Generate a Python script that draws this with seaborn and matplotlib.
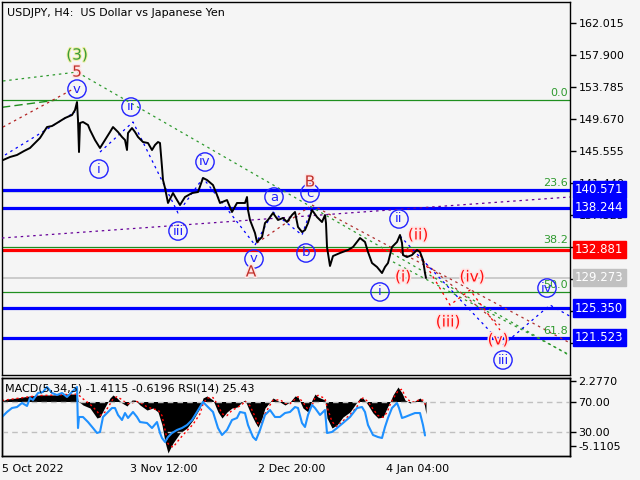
import numpy as np
import pandas as pd
import matplotlib
matplotlib.use("Agg")
import matplotlib.pyplot as plt
import matplotlib.patheffects as pe
import matplotlib.transforms as mtransforms
import seaborn as sns

# ---- price (H4 bars, bar index from the left edge of the chart)
price_bar = [1, 8, 15, 22, 28, 31, 38, 45, 50, 55, 63, 70, 73, 75, 76, 77, 78, 81, 86, 88,
             93, 98, 103, 108, 111, 116, 120, 123, 125, 126, 130, 133, 136, 141, 146, 150,
             153, 156, 158, 160, 161, 163, 166, 171, 175, 178, 183, 190, 196, 201, 205, 211,
             215, 218, 225, 230, 235, 243, 245, 246, 248, 253, 255, 260, 263, 266, 271, 276,
             281, 285, 290, 293, 296, 300, 303, 306, 310, 315, 320, 323, 324, 325, 328, 331,
             338, 346, 351, 358, 363, 366, 370, 375, 380, 383, 386, 390, 395, 398, 400, 401,
             405, 410, 415, 418, 421, 423, 424]
price = [144.41, 144.80, 145.06, 145.57, 145.96, 146.35, 147.25, 148.66, 148.79, 149.18,
         149.82, 150.21, 150.85, 151.88, 149.56, 145.44, 149.18, 149.31, 148.92, 148.28,
         146.99, 145.96, 146.99, 148.02, 148.66, 148.02, 147.38, 146.99, 145.70, 147.89,
         148.53, 148.02, 147.38, 146.73, 146.60, 145.70, 146.35, 146.73, 146.60, 143.51,
         141.84, 140.81, 138.88, 140.16, 139.26, 138.62, 139.65, 140.16, 140.29, 142.10,
         141.84, 141.19, 139.91, 138.88, 139.26, 137.72, 138.88, 138.88, 139.65, 137.98,
         136.69, 135.01, 133.86, 134.50, 136.30, 136.69, 137.59, 136.69, 136.95, 136.43,
         137.33, 137.72, 135.79, 135.14, 135.40, 136.30, 137.98, 137.07, 136.43, 137.33,
         136.30, 133.21, 130.77, 132.05, 132.44, 132.83, 133.21, 134.37, 133.86, 132.57,
         131.15, 130.64, 129.86, 130.64, 131.15, 133.21, 133.86, 134.76, 133.73, 132.18,
         131.92, 132.18, 132.83, 132.57, 131.54, 129.86, 129.22]

# ---- MACD(5,34,5) histogram + signal, RSI(14)
macd_bar = [0, 5, 15, 28, 38, 51, 65, 75, 76, 81, 88, 95, 98, 103, 108, 111, 115, 120, 125,
            130, 133, 138, 145, 151, 156, 160, 163, 166, 171, 178, 185, 191, 198, 201, 205,
            211, 216, 220, 225, 230, 235, 240, 243, 248, 253, 256, 260, 263, 268, 271, 278,
            283, 288, 293, 296, 301, 306, 310, 313, 316, 323, 325, 330, 335, 341, 348, 355,
            358, 361, 366, 371, 376, 381, 385, 388, 391, 396, 400, 403, 408, 413, 418, 422, 424]
macd = [0.06, 0.28, 0.40, 0.63, 0.74, 0.74, 0.85, 0.85, 0.06, -0.40, -0.74, -1.88, -1.76,
        -0.63, 0.40, 0.74, 0.40, -0.17, -0.51, 0.17, 0.17, -0.40, -0.97, -0.74, -1.19, -2.67,
        -4.60, -5.85, -4.72, -3.58, -3.01, -2.10, -0.74, 0.40, 0.63, 0.17, -1.19, -1.88, -1.19,
        -0.74, -0.63, -0.06, 0.17, -1.19, -2.33, -2.90, -1.88, -0.74, -0.06, 0.40, -0.06, -0.40,
        -0.06, 0.63, 0.51, -0.74, -1.19, 0.17, 0.85, 0.51, 0.17, -1.88, -3.01, -2.67, -1.76,
        -1.19, -0.06, 0.40, 0.40, -0.40, -1.31, -1.88, -1.76, -0.74, -0.06, 0.74, 1.65, 0.97,
        0.17, -0.17, 0.06, 0.40, -0.17, -1.41]
signal = [0.10, 0.20, 0.35, 0.55, 0.68, 0.72, 0.80, 0.84, 0.80, 0.30, -0.30, -1.10, -1.60,
          -1.20, -0.30, 0.30, 0.55, 0.20, -0.25, -0.20, 0.05, -0.10, -0.60, -0.85, -0.95, -1.60,
          -3.20, -4.80, -5.20, -4.20, -3.30, -2.60, -1.40, -0.30, 0.40, 0.45, -0.40, -1.40, -1.60,
          -1.00, -0.70, -0.35, 0.05, -0.50, -1.70, -2.50, -2.40, -1.40, -0.40, 0.15, 0.20, -0.20,
          -0.25, 0.25, 0.55, -0.10, -0.90, -0.50, 0.45, 0.70, 0.35, -0.60, -2.30, -2.85, -2.20,
          -1.50, -0.60, 0.15, 0.40, 0.00, -0.85, -1.60, -1.80, -1.25, -0.40, 0.30, 1.20, 1.40,
          0.60, 0.00, -0.05, 0.25, 0.10, -0.62]
rsi_bar = [0, 5, 10, 15, 20, 25, 28, 31, 36, 41, 45, 50, 55, 60, 65, 70, 75, 76, 77, 81, 86,
           91, 95, 98, 101, 105, 110, 113, 116, 120, 123, 126, 131, 135, 138, 145, 150, 155, 158,
           160, 163, 166, 170, 175, 180, 185, 190, 195, 198, 201, 206, 211, 216, 220, 225, 230,
           235, 238, 243, 246, 251, 254, 258, 263, 268, 273, 278, 283, 288, 293, 296, 300, 303,
           306, 310, 313, 318, 323, 325, 330, 335, 341, 348, 355, 360, 363, 366, 371, 376, 380,
           383, 386, 390, 395, 397, 400, 403, 408, 413, 418, 421, 423]
rsi = [50, 56.7, 62, 63.3, 68.7, 64.7, 75.3, 72.7, 82, 83.3, 90, 82, 79.3, 82, 76.7, 83.3, 90,
       35.3, 50, 50, 43.3, 35.3, 28.7, 30, 50, 55.3, 62, 62, 52.7, 46, 55.3, 48.7, 56.7, 50,
       43.3, 42, 35.3, 43.3, 28.7, 22, 16.7, 23.3, 28.7, 32.7, 35.3, 39.3, 46, 56.7, 63.3, 70,
       63.3, 56.7, 35.3, 26, 32.7, 46, 48.7, 56.7, 55.3, 39.3, 23.3, 19.3, 32.7, 52.7, 59.3,
       50, 50, 55.3, 56.7, 63.3, 62, 42, 36.7, 52.7, 66, 62, 52.7, 59.3, 28.7, 30, 35.3, 42, 50,
       62, 63.3, 56.7, 39.3, 26, 23.3, 22, 36.7, 48.7, 62, 68.7, 62, 48.7, 50, 52.7, 55.3, 55.3,
       39.3, 25.4]

# ---- horizontal levels
levels = [140.571, 138.244, 132.881, 129.273, 125.350, 121.523]
level_colors = ['#0000ff', '#0000ff', '#ff0000', '#c0c0c0', '#0000ff', '#0000ff']
fib_names = ['0.0', '23.6', '38.2', '50.0', '61.8']
fib_values = [152.14, 140.45, 133.23, 127.38, 121.45]
price_ticks = [162.015, 157.900, 153.785, 149.670, 145.555, 141.440, 137.325, 133.210,
               129.095, 124.980, 120.865]
date_ticks = [0, 128, 256, 384]
date_labels = ['5 Oct 2022', '3 Nov 12:00', '2 Dec 20:00', '4 Jan 04:00']

# ---- wave marks: (text, bar, price)
circle_marks = [('v', 75, 153.55), ('i', 97, 143.25), ('ii', 129, 151.24), ('iii', 176, 135.27),
                ('iv', 203, 144.16), ('v', 252, 131.67), ('a', 272, 139.65), ('b', 304, 132.44),
                ('c', 308, 140.16), ('i', 378, 127.42), ('ii', 397, 136.82),
                ('iii', 501, 118.66), ('iv', 545, 127.93)]
red_marks = [('5', 75, 155.74), ('A', 249, 130.0), ('B', 308, 141.58), ('(i)', 401, 129.35),
             ('(ii)', 416, 134.76), ('(iii)', 446, 123.55), ('(iv)', 470, 129.35),
             ('(v)', 496, 121.24)]

# ---- drawn wave/trend lines: (bars, prices, colour)
trend_lines = [
    ([1, 75, 568], [154.59, 155.74, 119.2], '#2e9a2e'),
    ([391, 568], [131.3, 119.3], '#2e9a2e'),
    ([1, 73], [148.66, 153.68], '#b22222'),
    ([3, 73], [145.06, 150.59], '#0000ff'),
    ([98, 131, 176, 201, 253], [145.44, 149.31, 137.59, 142.10, 133.47], '#0000ff'),
    ([253, 271, 300, 310], [133.47, 137.72, 134.76, 138.36], '#0000ff'),
    ([255, 307], [133.73, 138.36], '#b22222'),
    ([0, 568], [134.37, 139.65], '#660099'),
    ([310, 568], [138.62, 120.85], '#b03030'),
    ([405, 498], [133.06, 123.17], '#b03030'),
    ([418, 448, 468, 498], [132.18, 125.74, 127.67, 122.52], '#ff0000'),
    ([398, 501, 548, 568], [134.63, 120.59, 125.74, 124.3], '#0000ff'),
]

bg = '#f5f5f5'
sns.set_theme(style='white')
plt.rcParams['font.family'] = ['DejaVu Sans']
plt.rcParams['axes.facecolor'] = bg
plt.rcParams['figure.facecolor'] = bg

fig = plt.figure(figsize=(6.4, 4.8), dpi=100)
ax = fig.add_axes([2 / 640, 1 - 375 / 480, 568 / 640, 373 / 480])
axi = fig.add_axes([2 / 640, 1 - 456 / 480, 568 / 640, 78 / 480])
axm = axi.twinx()

for a in (ax, axi, axm):
    for s in a.spines.values():
        s.set_color('black')
        s.set_linewidth(1)

# levels
ax.plot([0, 568], [fib_values[0]] * 2, color='#1f8f1f', lw=0.9)
ax.plot([0, 55], [151.2, 152.14], color='#1f8f1f', lw=1, ls=(0, (6, 3)))
for v in fib_values[1:]:
    ax.axhline(v, color='#1f8f1f', lw=0.9, zorder=2)
for v, c in zip(levels, level_colors):
    ax.axhline(v, color=c, lw=2.3 if c != '#c0c0c0' else 1.1, zorder=2)

for xs, ys, c in trend_lines:
    ax.plot(xs, ys, color=c, lw=0.9, ls=(0, (2, 3)), zorder=3)

sns.lineplot(x=price_bar, y=price, ax=ax, color='black', lw=1.4, sort=False,
             estimator=None, zorder=4)

for name, v in zip(fib_names, fib_values):
    ax.text(0.996, v + 0.3, name, transform=mtransforms.blended_transform_factory(ax.transAxes, ax.transData),
            ha='right', va='bottom', color='#2e9a2e', fontsize=8, zorder=5)

halo = [pe.withStroke(linewidth=2.2, foreground='#ffe4e4')]
for t, x, y in circle_marks:
    ax.text(x, y, t, ha='center', va='center', color='#2222ff', fontsize=9.5, zorder=6,
            bbox=dict(boxstyle='circle,pad=0.2', fc='none', ec='#2222ff', lw=1))
for t, x, y in red_marks:
    ax.text(x, y, t, ha='center', va='center', color='#ff1010' if t.startswith('(') else '#c0302a',
            fontsize=11, zorder=6, path_effects=halo)
ax.text(75, 157.93, '(3)', ha='center', va='center', color='#3a9a3a', fontsize=11, zorder=6,
        path_effects=[pe.withStroke(linewidth=1.5, foreground='#f0f0a0')])

ax.set_xlim(0, 568)
ax.set_ylim(116.73, 164.76)
ax.set_xticks([])
ax.yaxis.tick_right()
ax.set_yticks(price_ticks)
ax.set_yticklabels([f'{v:.3f}' for v in price_ticks])
ax.tick_params(axis='y', direction='out', length=4, width=1, labelsize=8, pad=2, colors='black')

tr = mtransforms.blended_transform_factory(ax.transAxes, ax.transData)
for v, c in zip(levels, level_colors):
    ax.text(1.009, v, f'{v:.3f}', transform=tr, ha='left', va='center', color='white',
            fontsize=8.5, zorder=10, clip_on=False,
            bbox=dict(boxstyle='square,pad=0.18', fc=c, ec=c))

ax.text(0.009, 0.985, 'USDJPY, H4:  US Dollar vs Japanese Yen', transform=ax.transAxes,
        ha='left', va='top', fontsize=8, color='black')

# indicator window
axm.fill_between(macd_bar, 0, macd, color='black', lw=0, zorder=2)
axm.plot(macd_bar, signal, color='red', lw=1, ls=(0, (1.5, 2)), zorder=3)
axi.axhline(70, color='#c0c0c0', lw=1, ls=(0, (4, 3)))
axi.axhline(30, color='#c0c0c0', lw=1, ls=(0, (4, 3)))
sns.lineplot(x=rsi_bar, y=rsi, ax=axi, color='#1e90ff', lw=1.5, sort=False, estimator=None)
axi.set_zorder(axm.get_zorder() + 1)
axi.patch.set_visible(False)

axi.set_xlim(0, 568)
axi.set_ylim(-2, 102)
axm.set_ylim(-6.194, 2.671)
axi.yaxis.tick_right()
axi.set_yticks([70, 30])
axi.set_yticklabels(['70.00', '30.00'])
axm.set_yticks([2.277, -5.1105])
axm.set_yticklabels(['2.2770', '-5.1105'])
for a in (axi, axm):
    a.tick_params(axis='y', direction='out', length=4, width=1, labelsize=8, pad=2, colors='black')
    a.set_ylabel('')
axi.set_xticks(date_ticks)
axi.set_xticklabels(date_labels, ha='left')
axi.tick_params(axis='x', direction='out', length=4, width=1, labelsize=8, pad=2, colors='black')
axi.text(0.006, 0.93, 'MACD(5,34,5) -1.4115 -0.6196 RSI(14) 25.43', transform=axi.transAxes,
         ha='left', va='top', fontsize=8, color='black')

fig.savefig('out.png', dpi=100, facecolor=bg)
